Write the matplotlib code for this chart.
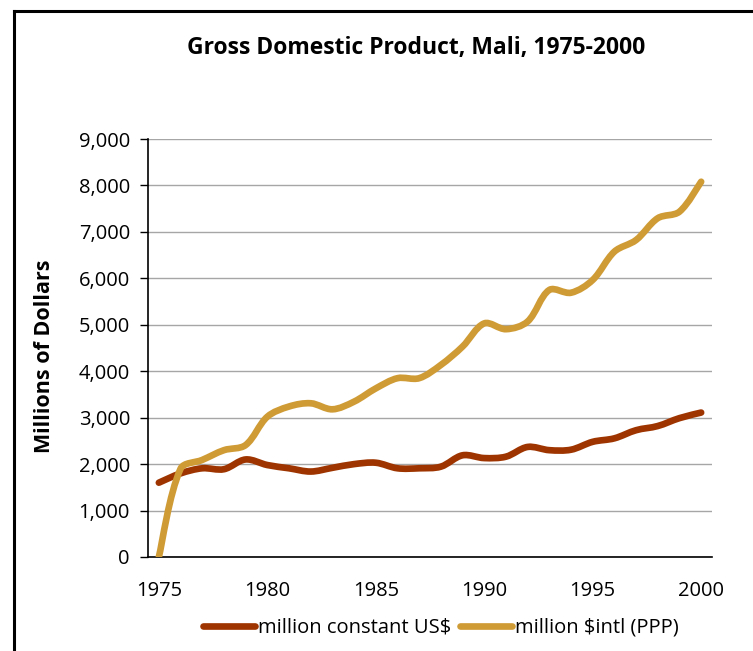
import matplotlib
matplotlib.use("Agg")
import matplotlib.pyplot as plt
from matplotlib.path import Path
from matplotlib.patches import PathPatch
from matplotlib.lines import Line2D
from matplotlib.ticker import FuncFormatter
import numpy as np

years = list(range(1975, 2001))
constant_usd = [1600, 1800, 1910, 1890, 2100, 1980, 1910, 1840, 1920, 2000,
                2030, 1910, 1910, 1945, 2190, 2130, 2160, 2370, 2300, 2310,
                2480, 2555, 2730, 2820, 2990, 3110]
intl_ppp = [0, 1900, 2090, 2300, 2410, 3020, 3240, 3310, 3180, 3345,
            3630, 3850, 3850, 4135, 4530, 5030, 4905, 5070, 5750, 5690,
            5965, 6575, 6825, 7295, 7435, 8080]

series_names = ["million constant US$", "million $intl (PPP)"]
colors = ["#9E3500", "#CF9B35"]

plt.rcParams['font.family'] = ['Open Sans', 'DejaVu Sans']

# rough pixel size of one unit on each axis, used to weight the smoothing
XPX, YPX = 21.7, 0.0464


def smooth_path(x, y):
    # smoothed line like the spreadsheet: cubic bezier between each pair of points,
    # control arms weighted by the neighbouring segment lengths
    x = np.asarray(x, float)
    y = np.asarray(y, float)
    n = len(x)
    d = np.hypot(np.diff(x) * XPX, np.diff(y) * YPX)
    tx, ty = np.zeros(n), np.zeros(n)
    for i in range(n):
        a, b = max(i - 1, 0), min(i + 1, n - 1)
        tx[i], ty[i] = x[b] - x[a], y[b] - y[a]
    verts = [(x[0], y[0])]
    codes = [Path.MOVETO]
    for i in range(n - 1):
        d0 = d[i - 1] if i > 0 else d[i]
        d2 = d[i + 1] if i + 1 < n - 1 else d[i]
        k1 = d[i] / (d0 + d[i]) / 3
        k2 = d[i] / (d[i] + d2) / 3
        c1 = (x[i] + k1 * tx[i], y[i] + k1 * ty[i])
        c2 = (x[i + 1] - k2 * tx[i + 1], y[i + 1] - k2 * ty[i + 1])
        verts += [c1, c2, (x[i + 1], y[i + 1])]
        codes += [Path.CURVE4] * 3
    return Path(verts, codes)


fig = plt.figure(figsize=(7.53, 6.51), dpi=100)
ax = fig.add_axes([148 / 753, 1 - 557 / 651, (712 - 148) / 753, (557 - 139) / 651])

for vals, c in zip([constant_usd, intl_ppp], colors):
    patch = PathPatch(smooth_path(years, vals), fill=False, edgecolor=c,
                      lw=4.8, capstyle='round', joinstyle='round', zorder=3)
    ax.add_patch(patch)

ax.set_xlim(1974.5, 2000.5)
ax.set_ylim(0, 9000)
ax.set_xticks(range(1975, 2001, 5))
ax.set_yticks(range(0, 9001, 1000))
ax.yaxis.set_major_formatter(FuncFormatter(lambda v, p: f"{int(v):,}"))
ax.grid(axis='y', color='#a6a6a6', lw=1)
ax.set_axisbelow(True)
ax.tick_params(axis='y', length=6, width=1, labelsize=14.5, pad=7)
ax.tick_params(axis='x', length=0, labelsize=14.5, pad=17)
for s in ['top', 'right']:
    ax.spines[s].set_visible(False)
ax.spines['left'].set_linewidth(1.2)
ax.spines['bottom'].set_linewidth(1.2)

fig.text(416 / 753, 1 - 48 / 651, "Gross Domestic Product, Mali, 1975-2000",
         ha='center', va='center', fontsize=16.5, fontweight='bold')
fig.text(45 / 753, 1 - 356 / 651, "Millions of Dollars", rotation=90,
         ha='center', va='center', fontsize=15.5, fontweight='bold')

handles = [Line2D([], [], color=c, lw=4.8, solid_capstyle='round') for c in colors]
fig.legend(handles, series_names, loc='center', bbox_to_anchor=(441 / 753, 1 - 628 / 651),
           ncol=2, frameon=False, fontsize=14.5, handlelength=2.6,
           handletextpad=0.15, columnspacing=0.4)

# frame around the chart (left and top edges visible)
fig.add_artist(Line2D([14 / 753, 14 / 753], [0, 1 - 11 / 651], color='black', lw=2.2,
                      transform=fig.transFigure, solid_capstyle='projecting'))
fig.add_artist(Line2D([14 / 753, 1], [1 - 11 / 651, 1 - 11 / 651], color='black', lw=2.2,
                      transform=fig.transFigure, solid_capstyle='projecting'))

fig.savefig("out.png", dpi=100)
